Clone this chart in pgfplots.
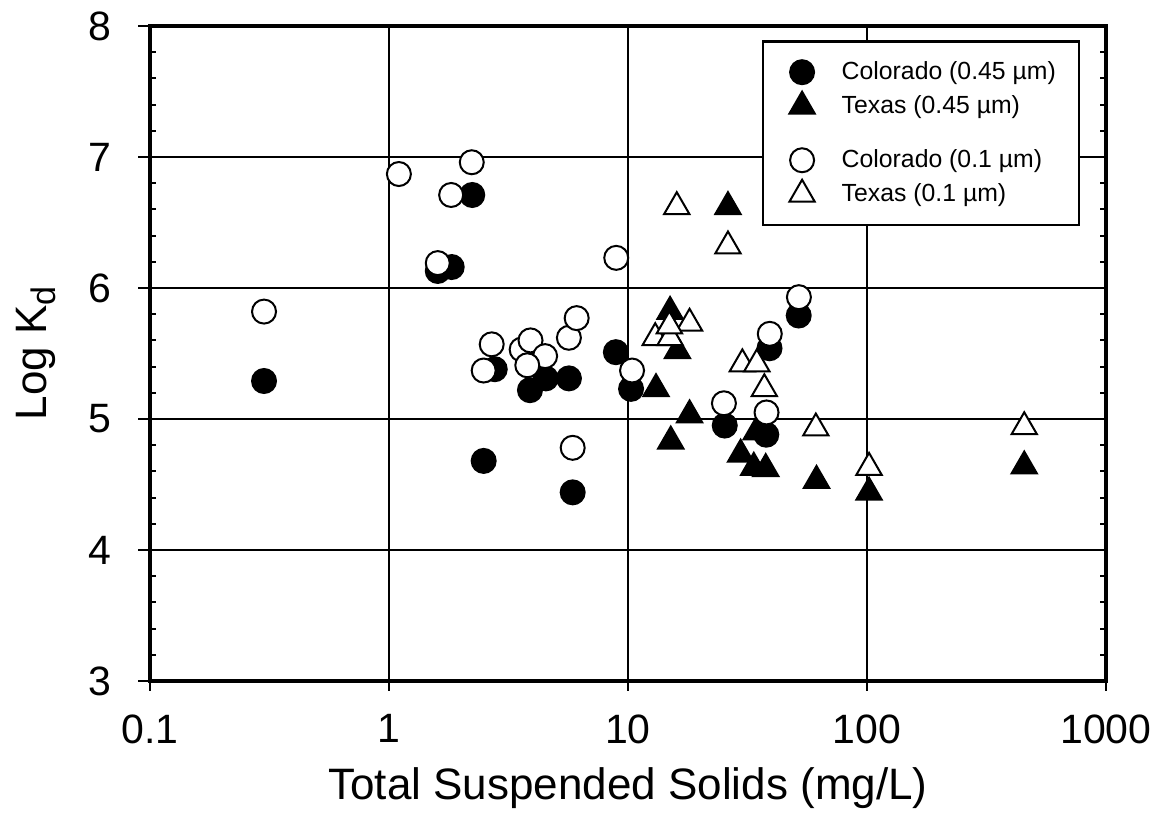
\documentclass[border=0pt]{standalone}
\usepackage{pgfplots}
\usepackage{pgfplotstable}
\pgfplotsset{compat=1.18}
\usepackage{fontspec}
\setmainfont{Liberation Sans}

\pgfplotstableread{
x y
0.30 5.29
2.23 6.71
1.83 6.16
1.60 6.13
2.77 5.38
3.89 5.22
4.53 5.31
5.66 5.31
8.9 5.51
10.3 5.23
2.49 4.68
5.87 4.44
51.8 5.79
39.1 5.54
25.4 4.95
37.9 4.88
}\coA

\pgfplotstableread{
x y
26.2 6.62
15.0 5.82
16.1 5.52
13.1 5.23
18.1 5.03
15.1 4.83
34.4 4.90
29.6 4.73
33.6 4.63
37.7 4.62
61.5 4.53
102 4.44
455 4.64
}\txA

\pgfplotstableread{
x y
0.30 5.82
1.10 6.87
2.22 6.96
1.82 6.71
1.60 6.19
2.69 5.57
2.49 5.37
3.59 5.53
3.91 5.60
4.50 5.48
3.79 5.41
5.66 5.62
6.10 5.77
8.93 6.23
10.4 5.37
5.87 4.78
51.9 5.93
39.2 5.65
25.2 5.12
38.0 5.05
}\coB

\pgfplotstableread{
x y
16.0 6.62
26.2 6.32
18.1 5.73
13.0 5.62
15.0 5.62
14.9 5.71
30.1 5.42
34.6 5.42
37.2 5.23
61.1 4.93
102 4.63
455 4.94
}\txB

\begin{document}
\begin{tikzpicture}
\path[use as bounding box] (-75pt,-66.5pt) rectangle (509.5pt,340.5pt);
\begin{axis}[
  at={(0,0)}, anchor=south west,
  scale only axis, width=478pt, height=327.5pt,
  xmode=log, xmin=0.1, xmax=1000, ymin=3, ymax=8,
  xtick={0.1,1,10,100,1000}, xticklabels={0.1,1,10,100,1000},
  ytick={3,4,5,6,7,8}, yticklabels={3,4,5,6,7,8},
  xminorticks=false, minor y tick num=4,
  tick align=inside, major tick length=0pt, minor tick length=2.8pt,
  every tick/.style={black, line width=1pt},
  grid=major, major grid style={black, line width=1.3pt},
  axis line style={line width=1.8pt},
  clip=false,
  ticklabel style={font=\fontsize{20.5}{24}\selectfont},
  xticklabel style={anchor=north, inner sep=0pt, yshift=-16.5pt},
  yticklabel style={anchor=east, inner sep=0pt, xshift=-19pt},
  every axis x label/.style={at={(axis description cs:0.5,-0.181)}, anchor=base, font=\fontsize{22}{26}\selectfont},
  every axis y label/.style={at={(axis description cs:-0.1192,0.5)}, rotate=90, anchor=center, font=\fontsize{22}{26}\selectfont},
  xlabel={Total Suspended Solids (mg/L)},
  ylabel={Log K\raisebox{-0.2em}{\fontsize{17}{17}\selectfont d}},
  legend cell align=left,
  legend style={at={(axis description cs:0.973,0.978)}, anchor=north east, draw=black, line width=1.3pt,
    font=\fontsize{12.4}{14}\selectfont, inner xsep=11pt, inner ysep=9pt, row sep=3.5pt,
    nodes={inner xsep=0.5pt, inner ysep=1pt},
    /tikz/every odd column/.append style={column sep=13pt}},
]
\addplot[only marks, mark=*, mark size=6pt, mark options={fill=black, draw=black, line width=1pt}] table {\coA};
\addlegendentry{Colorado (0.45 µm)}
\addplot[only marks, mark=triangle*, mark size=7.3pt, mark options={fill=black, draw=black, line width=1pt}] table {\txA};
\addlegendentry{Texas (0.45 µm)}
\addlegendimage{empty legend}
\addlegendentry{\rule{0pt}{4pt}}
\addplot[only marks, mark=*, mark size=6pt, mark options={fill=white, draw=black, line width=1pt}] table {\coB};
\addlegendentry{Colorado (0.1 µm)}
\addplot[only marks, mark=triangle*, mark size=7.3pt, mark options={fill=white, draw=black, line width=1pt}] table {\txB};
\addlegendentry{Texas (0.1 µm)}
\pgfplotsinvokeforeach{3,4,5,6,7,8}{\draw[line width=1.3pt] (axis cs:0.1,#1) -- ++(-6pt,0pt);}
\pgfplotsinvokeforeach{0.1,1,10,100,1000}{\draw[line width=1.3pt] (axis cs:#1,3) -- ++(0pt,-5pt);}
\end{axis}
\end{tikzpicture}
\end{document}
